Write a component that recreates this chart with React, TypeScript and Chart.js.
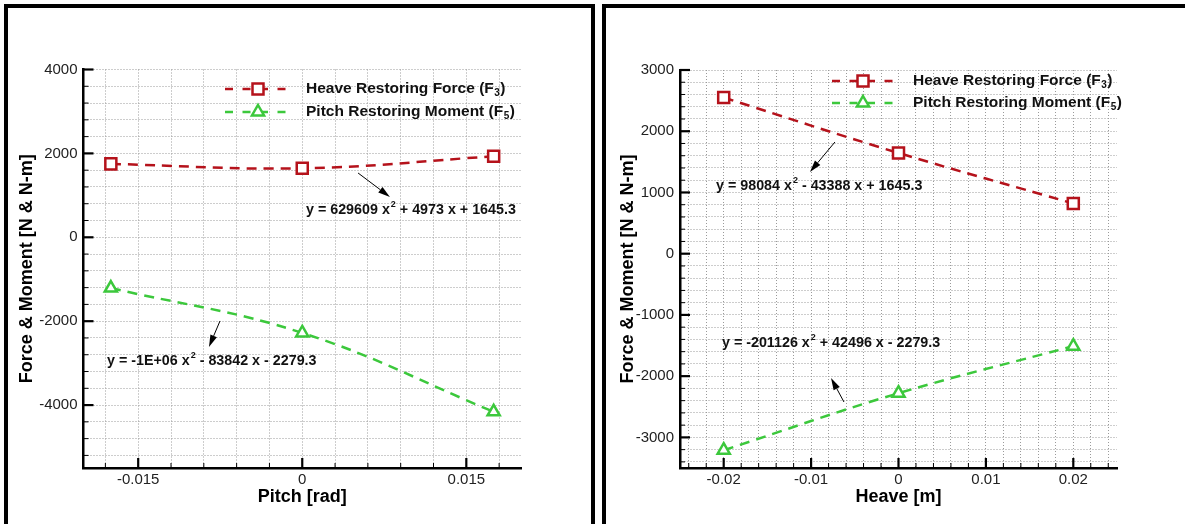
import React, { useEffect, useRef } from 'react';
import { Chart, registerables } from 'chart.js';

Chart.register(...registerables);

const FONT = '"Liberation Sans", Arial, Helvetica, sans-serif';
const RED = '#b5121b';
const GREEN = '#3cc83c';

// ---- Left panel (pitch) data ----
const pitchX = [-0.0175, 0, 0.0175];
const pitchHeaveForce = [1750, 1645, 1930];
const pitchMoment = [-1210, -2279, -4160];
const pitchXLabels = [-0.015, 0, 0.015];
const pitchYLabels = [-4000, -2000, 0, 2000, 4000];

// ---- Right panel (heave) data ----
const heaveX = [-0.02, 0, 0.02];
const heaveHeaveForce = [2550, 1645, 820];
const heaveMoment = [-3210, -2279, -1510];
const heaveXLabels = [-0.02, -0.01, 0, 0.01, 0.02];
const heaveYLabels = [-3000, -2000, -1000, 0, 1000, 2000, 3000];

const legendNames = ['Heave Restoring Force (F', 'Pitch Restoring Moment (F'];
const legendSubs = ['3', '5'];

const pitchEquations = [
  ['y = 629609 x', '2', ' + 4973 x + 1645.3'],
  ['y = -1E+06 x', '2', ' - 83842 x - 2279.3'],
];
const heaveEquations = [
  ['y = 98084 x', '2', ' - 43388 x + 1645.3'],
  ['y = -201126 x', '2', ' + 42496 x - 2279.3'],
];

type Pt = [number, number];
type Panel = {
  left: number;
  w: number;
  h: number;
  area: { left: number; right: number; top: number; bottom: number };
  xs: number[];
  heave: number[];
  moment: number[];
  xMin: number; xMax: number; xStep: number; xLabels: number[];
  yMin: number; yMax: number; yStep: number; yLabels: number[];
  xTitle: string;
  yTitlePad: number;
  legend: { x0: number; x1: number; marker: number; text: number; rows: number[] };
  eqs: { at: Pt; parts: string[] }[];
  arrows: { from: Pt; to: Pt }[];
};

const panels: Panel[] = [
  {
    left: 8, w: 583, h: 516,
    area: { left: 75.5, right: 513, top: 61.5, bottom: 460 },
    xs: pitchX, heave: pitchHeaveForce, moment: pitchMoment,
    xMin: -0.02, xMax: 0.02, xStep: 0.003, xLabels: pitchXLabels,
    yMin: -5500, yMax: 4000, yStep: 400, yLabels: pitchYLabels,
    xTitle: 'Pitch [rad]',
    yTitlePad: 8,
    legend: { x0: 217, x1: 280, marker: 250, text: 298, rows: [81, 104] },
    eqs: [
      { at: [0.00034, 651], parts: pitchEquations[0] },
      { at: [-0.01785, -2949], parts: pitchEquations[1] },
    ],
    arrows: [
      { from: [0.0051, 1533], to: [0.00802, 961] },
      { from: [-0.00752, -1995], to: [-0.00853, -2615] },
    ],
  },
  {
    left: 606, w: 579, h: 516,
    area: { left: 74, right: 511, top: 62, bottom: 460 },
    xs: heaveX, heave: heaveHeaveForce, moment: heaveMoment,
    xMin: -0.025, xMax: 0.025, xStep: 0.002, xLabels: heaveXLabels,
    yMin: -3500, yMax: 3000, yStep: 200, yLabels: heaveYLabels,
    xTitle: 'Heave [m]',
    yTitlePad: 11,
    legend: { x0: 226, x1: 289, marker: 257, text: 307, rows: [73, 95] },
    eqs: [
      { at: [-0.02088, 1106], parts: heaveEquations[0] },
      { at: [-0.0202, -1458], parts: heaveEquations[1] },
    ],
    arrows: [
      { from: [-0.00727, 1824], to: [-0.01013, 1334] },
      { from: [-0.00624, -2422], to: [-0.00772, -2030] },
    ],
  },
];

function isLabel(v: number, labels: number[], step: number) {
  return labels.find((l) => Math.abs(l - v) < step * 1e-3);
}

function buildTicks(min: number, max: number, step: number) {
  const out: { value: number }[] = [];
  const start = Math.ceil(min / step - 1e-9);
  for (let i = start; i * step <= max + step * 1e-6; i++) {
    out.push({ value: Number((i * step).toFixed(8)) });
  }
  return out;
}

function drawMarker(ctx: CanvasRenderingContext2D, kind: string, x: number, y: number, color: string) {
  ctx.save();
  ctx.setLineDash([]);
  ctx.strokeStyle = color;
  ctx.fillStyle = '#fff';
  ctx.lineWidth = 2.5;
  ctx.beginPath();
  if (kind === 'rect') {
    ctx.rect(x - 5.5, y - 5.5, 11, 11);
  } else {
    const r = 7;
    ctx.moveTo(x, y - r);
    ctx.lineTo(x + r * 0.866, y + r * 0.5);
    ctx.lineTo(x - r * 0.866, y + r * 0.5);
    ctx.closePath();
  }
  ctx.fill();
  ctx.stroke();
  ctx.restore();
}

function makeOverlay(p: Panel) {
  return {
    id: 'overlay',
    afterDraw(chart: any) {
      const ctx: CanvasRenderingContext2D = chart.ctx;
      const xs = chart.scales.x;
      const ys = chart.scales.y;
      const area = chart.chartArea;
      ctx.save();
      // inward tick marks
      ctx.strokeStyle = '#000';
      xs.ticks.forEach((t: any) => {
        const major = isLabel(t.value, p.xLabels, p.xStep) !== undefined;
        const px = xs.getPixelForValue(t.value);
        ctx.lineWidth = major ? 2.2 : 1;
        ctx.beginPath();
        ctx.moveTo(px, area.bottom);
        ctx.lineTo(px, area.bottom - (major ? 10 : 5));
        ctx.stroke();
      });
      ys.ticks.forEach((t: any) => {
        const major = isLabel(t.value, p.yLabels, p.yStep) !== undefined;
        const py = ys.getPixelForValue(t.value);
        ctx.lineWidth = major ? 2.2 : 1;
        ctx.beginPath();
        ctx.moveTo(area.left, py);
        ctx.lineTo(area.left + (major ? 10 : 5), py);
        ctx.stroke();
      });

      // legend
      const L = p.legend;
      legendNames.forEach((name, i) => {
        const y = L.rows[i];
        const color = i === 0 ? RED : GREEN;
        ctx.save();
        ctx.strokeStyle = color;
        ctx.lineWidth = 2.5;
        ctx.setLineDash([8, 9.5]);
        ctx.beginPath();
        ctx.moveTo(L.x0, y);
        ctx.lineTo(L.x1, y);
        ctx.stroke();
        ctx.restore();
        drawMarker(ctx, i === 0 ? 'rect' : 'tri', L.marker, y, color);
        ctx.fillStyle = '#111';
        ctx.textBaseline = 'middle';
        ctx.textAlign = 'left';
        ctx.font = `bold 15.5px ${FONT}`;
        ctx.fillText(name, L.text, y);
        const w = ctx.measureText(name).width;
        ctx.font = `bold 10px ${FONT}`;
        ctx.fillText(legendSubs[i], L.text + w + 0.5, y + 4.5);
        const ws = ctx.measureText(legendSubs[i]).width;
        ctx.font = `bold 15.5px ${FONT}`;
        ctx.fillText(')', L.text + w + ws + 1, y);
      });

      // equations
      p.eqs.forEach((e) => {
        const x = xs.getPixelForValue(e.at[0]);
        const y = ys.getPixelForValue(e.at[1]);
        ctx.fillStyle = '#111';
        ctx.textBaseline = 'middle';
        ctx.textAlign = 'left';
        ctx.font = `bold 14.3px ${FONT}`;
        ctx.fillText(e.parts[0], x, y);
        const w0 = ctx.measureText(e.parts[0]).width;
        ctx.font = `bold 9px ${FONT}`;
        ctx.fillText(e.parts[1], x + w0 + 1, y - 5);
        const w1 = ctx.measureText(e.parts[1]).width;
        ctx.font = `bold 14.3px ${FONT}`;
        ctx.fillText(e.parts[2], x + w0 + w1 + 1, y);
      });

      // arrows
      p.arrows.forEach((a) => {
        const x1 = xs.getPixelForValue(a.from[0]);
        const y1 = ys.getPixelForValue(a.from[1]);
        const x2 = xs.getPixelForValue(a.to[0]);
        const y2 = ys.getPixelForValue(a.to[1]);
        const ang = Math.atan2(y2 - y1, x2 - x1);
        const hl = 12;
        const hw = 3.5;
        const bx = x2 - hl * Math.cos(ang);
        const by = y2 - hl * Math.sin(ang);
        ctx.strokeStyle = '#000';
        ctx.fillStyle = '#000';
        ctx.lineWidth = 1;
        ctx.beginPath();
        ctx.moveTo(x1, y1);
        ctx.lineTo(bx, by);
        ctx.stroke();
        ctx.beginPath();
        ctx.moveTo(x2, y2);
        ctx.lineTo(bx + hw * Math.sin(ang), by - hw * Math.cos(ang));
        ctx.lineTo(bx - hw * Math.sin(ang), by + hw * Math.cos(ang));
        ctx.closePath();
        ctx.fill();
      });
      ctx.restore();
    },
  };
}

function PanelChart({ p }: { p: Panel }) {
  const ref = useRef<HTMLCanvasElement>(null);
  useEffect(() => {
    const canvas = ref.current;
    if (!canvas) return;
    const gridCommon = {
      color: '#9a9a9a',
      lineWidth: 1,
      drawTicks: false,
    };
    const chart = new Chart(canvas, {
      type: 'scatter',
      data: {
        datasets: [
          {
            label: 'Heave Restoring Force (F3)',
            data: p.xs.map((x, i) => ({ x, y: p.heave[i] })),
            showLine: true,
            borderColor: RED,
            borderWidth: 2.5,
            borderDash: [10, 7],
            tension: 0.4,
            pointStyle: 'rect',
            pointRadius: 7.8,
            pointBorderWidth: 2.5,
            pointBackgroundColor: '#fff',
            pointBorderColor: RED,
          },
          {
            label: 'Pitch Restoring Moment (F5)',
            data: p.xs.map((x, i) => ({ x, y: p.moment[i] })),
            showLine: true,
            borderColor: GREEN,
            borderWidth: 2.5,
            borderDash: [10, 7],
            tension: 0.4,
            pointStyle: 'triangle',
            pointRadius: 7,
            pointBorderWidth: 2.5,
            pointBackgroundColor: '#fff',
            pointBorderColor: GREEN,
          },
        ],
      },
      options: {
        animation: false,
        responsive: false,
        maintainAspectRatio: false,
        layout: { padding: { left: 0, top: p.area.top, right: p.w - p.area.right, bottom: 0 } },
        plugins: { legend: { display: false }, tooltip: { enabled: false } },
        scales: {
          x: {
            type: 'linear',
            position: 'bottom',
            min: p.xMin,
            max: p.xMax,
            afterBuildTicks: (s: any) => { s.ticks = buildTicks(p.xMin, p.xMax, p.xStep); },
            afterFit: (s: any) => { s.height = p.h - p.area.bottom; },
            ticks: {
              autoSkip: false,
              maxRotation: 0,
              padding: 3,
              color: '#222',
              font: { family: FONT, size: 15 },
              callback: (v: any) => {
                const l = isLabel(Number(v), p.xLabels, p.xStep);
                return l === undefined ? '' : String(l);
              },
            },
            grid: gridCommon,
            border: { display: true, color: '#000', width: 2.5, dash: [1, 2] },
            title: {
              display: true,
              text: p.xTitle,
              color: '#000',
              font: { family: FONT, size: 18, weight: 'bold' },
              padding: { top: 0, bottom: 16 },
            },
          },
          y: {
            type: 'linear',
            min: p.yMin,
            max: p.yMax,
            afterBuildTicks: (s: any) => { s.ticks = buildTicks(p.yMin, p.yMax, p.yStep); },
            afterFit: (s: any) => { s.width = p.area.left; },
            ticks: {
              autoSkip: false,
              padding: 6,
              color: '#222',
              font: { family: FONT, size: 15 },
              callback: (v: any) => {
                const l = isLabel(Number(v), p.yLabels, p.yStep);
                return l === undefined ? '' : String(l);
              },
            },
            grid: gridCommon,
            border: { display: true, color: '#000', width: 2.5, dash: [1, 2] },
            title: {
              display: true,
              text: 'Force & Moment [N & N-m]',
              color: '#000',
              font: { family: FONT, size: 18, weight: 'bold' },
              padding: { top: p.yTitlePad, bottom: 0 },
            },
          },
        },
      } as any,
      plugins: [makeOverlay(p)],
    });
    return () => chart.destroy();
  }, [p]);
  return (
    <canvas
      ref={ref}
      width={p.w}
      height={p.h}
      style={{ position: 'absolute', left: p.left, top: 8, width: p.w, height: p.h }}
    />
  );
}

export default function App() {
  return (
    <div
      style={{
        position: 'fixed',
        left: 0,
        top: 0,
        width: 1185,
        height: 524,
        overflow: 'hidden',
        background: '#fff',
      }}
    >
      <div
        style={{
          position: 'absolute', left: 4, top: 4, width: 591, height: 600,
          border: '4px solid #000', boxSizing: 'border-box',
        }}
      />
      <div
        style={{
          position: 'absolute', left: 602, top: 4, width: 640, height: 600,
          border: '4px solid #000', boxSizing: 'border-box',
        }}
      />
      {panels.map((p, i) => (
        <PanelChart key={i} p={p} />
      ))}
    </div>
  );
}
